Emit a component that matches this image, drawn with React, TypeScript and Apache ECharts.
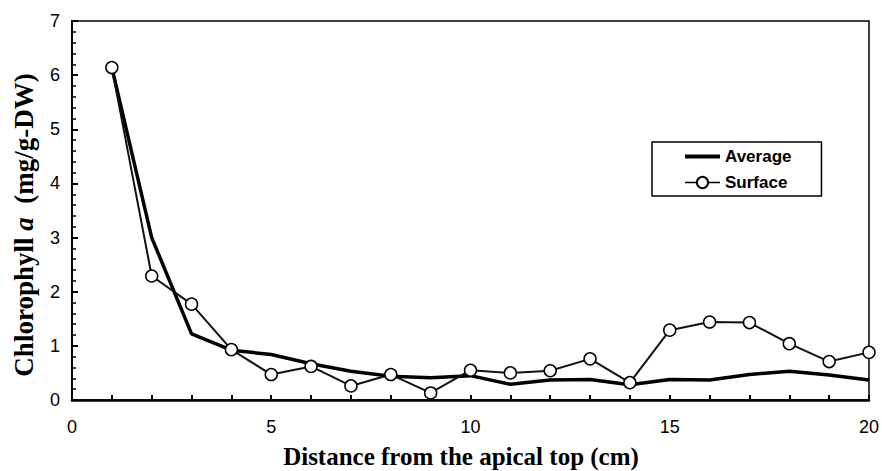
import React, { useEffect, useRef } from 'react';
import * as echarts from 'echarts';

const distances = [1, 2, 3, 4, 5, 6, 7, 8, 9, 10, 11, 12, 13, 14, 15, 16, 17, 18, 19, 20];
const average = [6.14, 3.0, 1.22, 0.92, 0.84, 0.67, 0.53, 0.44, 0.41, 0.45, 0.29, 0.37, 0.38, 0.28, 0.38, 0.37, 0.47, 0.53, 0.46, 0.37];
const surface = [6.14, 2.29, 1.77, 0.93, 0.47, 0.62, 0.26, 0.47, 0.13, 0.55, 0.5, 0.54, 0.76, 0.32, 1.29, 1.44, 1.43, 1.04, 0.71, 0.88];
const xTickLabels = [0, 5, 10, 15, 20];
const yTickLabels = [0, 1, 2, 3, 4, 5, 6, 7];
const xTitle = 'Distance from the apical top (cm)';
const yTitleParts = ['Chlorophyll ', 'a', '  (mg/g-DW)'];
const seriesNames = ['Average', 'Surface'];

export default function App() {
  const ref = useRef<HTMLDivElement>(null);
  useEffect(() => {
    document.body.style.margin = '0';
    const chart = echarts.init(ref.current!, undefined, { renderer: 'svg' });
    const labelFont = { fontFamily: '"Liberation Sans", Arial, sans-serif', fontSize: 18, color: '#000' };
    chart.setOption({
      animation: false,
      grid: { left: 72, right: 11, top: 21, bottom: 71, show: true, borderColor: '#000', borderWidth: 1.5, backgroundColor: 'transparent' },
      xAxis: {
        type: 'value', min: 0, max: 20, interval: 1,
        axisLine: { show: true, lineStyle: { color: '#000', width: 2.5 } },
        axisTick: { show: true, inside: true, length: 5, lineStyle: { color: '#000', width: 2 } },
        splitLine: { show: false },
        axisLabel: {
          ...labelFont, margin: 18,
          formatter: (v: number) => (xTickLabels.includes(v) ? String(v) : ''),
        },
      },
      yAxis: {
        type: 'value', min: 0, max: 7, interval: 1,
        axisLine: { show: true, lineStyle: { color: '#000', width: 2 } },
        axisTick: { show: true, inside: true, length: 6, lineStyle: { color: '#000', width: 2 } },
        minorTick: { show: true, splitNumber: 5, length: 4, lineStyle: { color: '#000', width: 1.5 } },
        splitLine: { show: false },
        axisLabel: {
          ...labelFont, margin: 12,
          formatter: (v: number) => (yTickLabels.includes(v) ? String(v) : ''),
        },
      },
      legend: {
        orient: 'vertical', left: 652, top: 142,
        data: [
          { name: seriesNames[0], itemStyle: { opacity: 0 }, lineStyle: { width: 4, color: '#000' } },
          { name: seriesNames[1], lineStyle: { width: 1.5, color: '#000' } },
        ],
        borderColor: '#000', borderWidth: 1.5, backgroundColor: '#fff',
        padding: [6, 30, 5, 31], itemWidth: 35, itemHeight: 14, itemGap: 9,
        textStyle: { fontFamily: '"Liberation Sans", Arial, sans-serif', fontSize: 17, fontWeight: 'bold', color: '#000' },
      },
      series: [
        {
          name: seriesNames[0], type: 'line',
          data: distances.map((d, i) => [d, average[i]]),
          symbol: 'none',
          lineStyle: { color: '#000', width: 3.5 },
          itemStyle: { color: '#000' },
        },
        {
          name: seriesNames[1], type: 'line',
          data: distances.map((d, i) => [d, surface[i]]),
          symbol: 'circle', symbolSize: 12,
          lineStyle: { color: '#111', width: 2 },
          itemStyle: { color: '#fff', borderColor: '#000', borderWidth: 1.5 },
        },
      ],
      graphic: [
        {
          type: 'text', x: 461, y: 456,
          style: {
            text: xTitle, fontFamily: '"Liberation Serif", "Times New Roman", serif', fontWeight: 'bold', fontSize: 25,
            fill: '#000', align: 'center', verticalAlign: 'middle',
          },
        },
        {
          type: 'text', x: 24, y: 225, rotation: Math.PI / 2,
          style: {
            text: `{b|${yTitleParts[0]}}{i|${yTitleParts[1]}}{b|${yTitleParts[2]}}`,
            align: 'center', verticalAlign: 'middle',
            rich: {
              b: { fontFamily: '"Liberation Serif", "Times New Roman", serif', fontWeight: 'bold', fontSize: 27, fill: '#000' },
              i: { fontFamily: '"Liberation Serif", "Times New Roman", serif', fontWeight: 'bold', fontStyle: 'italic', fontSize: 27, fill: '#000' },
            },
          },
        },
      ],
    });
    return () => chart.dispose();
  }, []);
  return <div ref={ref} style={{ width: 882, height: 471 }} />;
}
